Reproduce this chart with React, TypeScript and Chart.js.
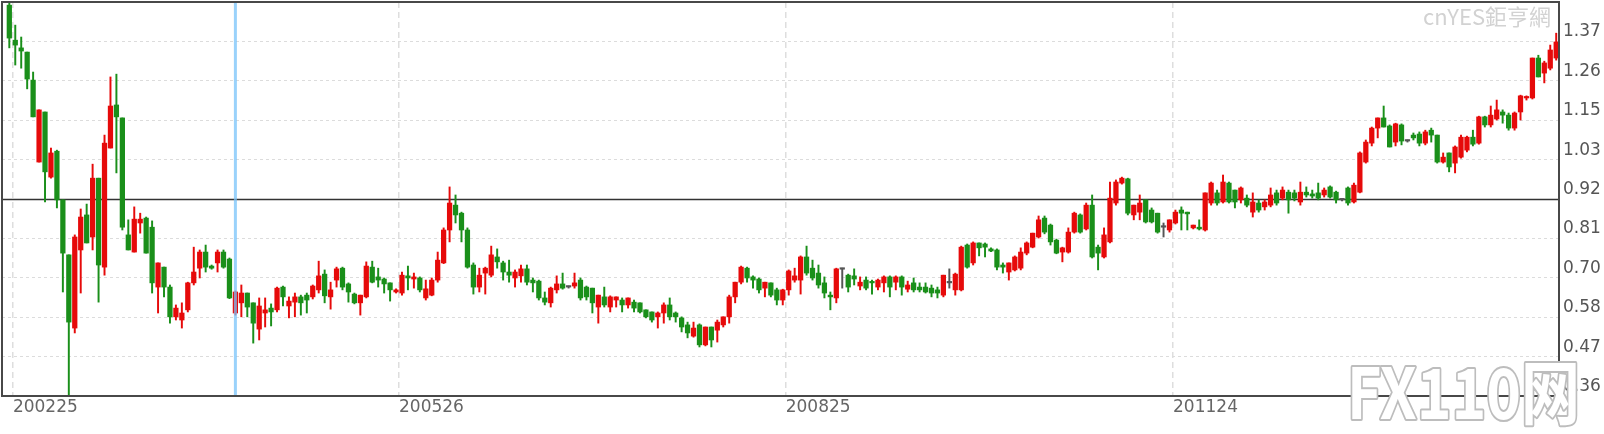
import React, { useEffect, useRef } from 'react';
import { Chart, registerables } from 'chart.js';

Chart.register(...registerables);

// ---- data ----
const OPEN = [
  1.474,1.374,1.352,1.340,1.260,1.026,1.169,0.983,1.057,0.918,
  0.761,0.552,0.775,0.875,0.812,0.980,0.726,1.066,1.189,1.152,
  0.818,0.769,0.852,0.866,0.840,0.669,0.726,0.669,0.584,0.575,
  0.604,0.681,0.723,0.769,0.729,0.738,0.769,0.749,0.595,0.624,
  0.652,0.624,0.549,0.595,0.609,0.604,0.669,0.615,0.626,0.641,
  0.646,0.641,0.661,0.706,0.641,0.689,0.723,0.678,0.649,0.624,
  0.641,0.726,0.698,0.692,0.681,0.655,0.652,0.701,0.692,0.695,
  0.638,0.646,0.689,0.738,0.832,0.903,0.880,0.832,0.732,0.669,
  0.709,0.703,0.755,0.738,0.712,0.695,0.701,0.721,0.689,0.686,
  0.638,0.624,0.661,0.678,0.669,0.672,0.689,0.669,0.666,0.612,
  0.641,0.612,0.632,0.632,0.618,0.626,0.624,0.604,0.598,0.584,
  0.595,0.618,0.595,0.581,0.561,0.529,0.561,0.504,0.555,0.546,
  0.561,0.584,0.641,0.683,0.723,0.698,0.692,0.666,0.681,0.661,
  0.632,0.661,0.689,0.689,0.755,0.723,0.709,0.681,0.646,0.638,
  0.720,0.703,0.701,0.672,0.689,0.683,0.669,0.681,0.698,0.683,
  0.698,0.663,0.681,0.669,0.669,0.666,0.661,0.646,0.681,0.661,
  0.661,0.789,0.738,0.795,0.792,0.778,0.775,0.732,0.712,0.718,
  0.723,0.766,0.783,0.812,0.866,0.846,0.803,0.769,0.769,0.826,
  0.875,0.835,0.903,0.783,0.755,0.798,0.909,0.966,0.978,0.875,
  0.883,0.918,0.889,0.880,0.840,0.832,0.852,0.889,0.883,0.838,
  0.840,0.832,0.909,0.938,0.912,0.966,0.946,0.918,0.923,0.883,
  0.909,0.898,0.903,0.938,0.923,0.940,0.938,0.912,0.940,0.935,
  0.938,0.932,0.955,0.940,0.918,0.952,0.912,0.940,1.026,1.080,
  1.123,1.152,1.129,1.083,1.132,1.086,1.103,1.106,1.080,1.117,
  1.103,1.026,1.052,1.023,1.040,1.060,1.097,1.080,1.155,1.132,
  1.149,1.169,1.160,1.123,1.169,1.209,1.209,1.323,1.280,1.294,
  1.323,
];
const HIGH = [
  1.480,1.417,1.383,1.340,1.283,1.175,1.169,1.066,1.060,0.918,
  0.761,0.818,0.892,0.906,1.020,0.980,1.103,1.269,1.277,1.152,
  0.861,0.898,0.880,0.869,0.858,0.738,0.726,0.675,0.618,0.624,
  0.683,0.783,0.775,0.789,0.732,0.775,0.775,0.752,0.658,0.675,
  0.652,0.624,0.638,0.638,0.621,0.669,0.672,0.641,0.652,0.646,
  0.652,0.675,0.743,0.718,0.683,0.726,0.726,0.681,0.652,0.646,
  0.741,0.743,0.723,0.695,0.681,0.664,0.712,0.729,0.709,0.698,
  0.689,0.695,0.769,0.838,0.955,0.932,0.883,0.838,0.738,0.723,
  0.726,0.786,0.778,0.743,0.746,0.718,0.732,0.732,0.695,0.689,
  0.655,0.669,0.701,0.709,0.672,0.709,0.695,0.672,0.666,0.646,
  0.669,0.644,0.641,0.638,0.638,0.632,0.624,0.604,0.598,0.598,
  0.624,0.638,0.598,0.584,0.569,0.569,0.564,0.555,0.555,0.575,
  0.584,0.646,0.683,0.729,0.726,0.701,0.695,0.683,0.681,0.666,
  0.663,0.718,0.723,0.758,0.786,0.746,0.732,0.698,0.655,0.723,
  0.723,0.706,0.721,0.698,0.698,0.689,0.692,0.701,0.701,0.701,
  0.701,0.686,0.695,0.681,0.681,0.675,0.669,0.703,0.721,0.709,
  0.786,0.792,0.798,0.795,0.795,0.781,0.778,0.738,0.738,0.758,
  0.781,0.798,0.823,0.872,0.872,0.849,0.806,0.783,0.838,0.883,
  0.878,0.909,0.932,0.789,0.838,0.969,0.975,0.983,0.980,0.903,
  0.932,0.918,0.895,0.880,0.852,0.861,0.889,0.898,0.883,0.846,
  0.861,0.938,0.969,0.946,0.989,0.969,0.946,0.955,0.932,0.938,
  0.918,0.918,0.952,0.946,0.955,0.946,0.946,0.969,0.955,0.946,
  0.966,0.952,0.958,0.943,0.920,0.955,0.966,1.055,1.089,1.126,
  1.152,1.186,1.132,1.137,1.135,1.089,1.109,1.112,1.117,1.123,
  1.103,1.052,1.052,1.072,1.103,1.100,1.117,1.157,1.157,1.186,
  1.203,1.175,1.166,1.169,1.217,1.215,1.323,1.331,1.314,1.360,
  1.394,
];
const LOW = [
  1.352,1.303,1.294,1.235,1.155,1.026,0.912,0.980,0.895,0.655,
  0.340,0.538,0.652,0.795,0.775,0.626,0.703,1.066,0.995,0.832,
  0.775,0.769,0.823,0.766,0.652,0.595,0.641,0.566,0.575,0.552,
  0.598,0.675,0.695,0.712,0.720,0.712,0.723,0.636,0.589,0.584,
  0.584,0.509,0.518,0.555,0.558,0.598,0.615,0.581,0.584,0.589,
  0.595,0.635,0.652,0.624,0.606,0.669,0.661,0.626,0.621,0.589,
  0.638,0.681,0.669,0.652,0.629,0.652,0.646,0.661,0.666,0.655,
  0.632,0.644,0.683,0.736,0.798,0.852,0.798,0.723,0.649,0.655,
  0.649,0.698,0.723,0.689,0.683,0.669,0.683,0.675,0.655,0.632,
  0.618,0.612,0.652,0.663,0.666,0.666,0.632,0.632,0.595,0.566,
  0.612,0.598,0.612,0.598,0.609,0.598,0.595,0.581,0.569,0.552,
  0.566,0.575,0.569,0.541,0.524,0.526,0.498,0.501,0.498,0.512,
  0.555,0.566,0.624,0.678,0.683,0.666,0.652,0.641,0.641,0.618,
  0.618,0.646,0.683,0.649,0.703,0.689,0.666,0.638,0.604,0.624,
  0.666,0.655,0.675,0.661,0.661,0.649,0.661,0.655,0.641,0.661,
  0.646,0.655,0.655,0.655,0.652,0.641,0.638,0.641,0.666,0.646,
  0.658,0.723,0.732,0.758,0.755,0.770,0.718,0.709,0.689,0.715,
  0.718,0.761,0.781,0.809,0.821,0.789,0.764,0.741,0.766,0.823,
  0.823,0.832,0.752,0.718,0.752,0.795,0.903,0.963,0.875,0.861,
  0.861,0.852,0.852,0.823,0.812,0.826,0.849,0.832,0.832,0.835,
  0.832,0.829,0.903,0.903,0.909,0.909,0.895,0.909,0.898,0.869,
  0.883,0.889,0.898,0.903,0.918,0.880,0.915,0.903,0.926,0.923,
  0.918,0.926,0.923,0.909,0.915,0.903,0.909,0.938,1.023,1.072,
  1.095,1.126,1.069,1.072,1.075,1.083,1.089,1.072,1.075,1.083,
  1.023,1.023,0.998,0.995,1.037,1.055,1.072,1.077,1.126,1.126,
  1.146,1.137,1.117,1.117,1.146,1.203,1.206,1.269,1.252,1.289,
  1.317,
];
const CLOSE = [
  1.380,1.360,1.343,1.263,1.155,1.175,0.998,1.052,0.918,0.766,
  0.569,0.812,0.869,0.795,0.980,0.732,1.080,1.186,1.155,0.840,
  0.775,0.863,0.863,0.766,0.681,0.738,0.669,0.584,0.609,0.595,
  0.681,0.712,0.769,0.726,0.723,0.769,0.726,0.638,0.655,0.652,
  0.612,0.566,0.615,0.604,0.598,0.666,0.641,0.629,0.641,0.624,
  0.632,0.672,0.701,0.644,0.661,0.721,0.669,0.655,0.624,0.646,
  0.729,0.683,0.689,0.678,0.661,0.661,0.703,0.695,0.698,0.661,
  0.664,0.689,0.746,0.832,0.909,0.875,0.832,0.726,0.669,0.703,
  0.723,0.761,0.741,0.712,0.703,0.712,0.721,0.683,0.681,0.638,
  0.626,0.666,0.678,0.666,0.669,0.681,0.638,0.641,0.624,0.646,
  0.618,0.641,0.641,0.618,0.638,0.609,0.598,0.584,0.575,0.595,
  0.618,0.584,0.584,0.555,0.538,0.552,0.504,0.555,0.518,0.569,
  0.584,0.641,0.683,0.726,0.695,0.689,0.661,0.683,0.646,0.632,
  0.661,0.715,0.701,0.755,0.709,0.695,0.675,0.652,0.641,0.721,
  0.720,0.669,0.692,0.683,0.666,0.681,0.689,0.698,0.669,0.698,
  0.669,0.675,0.661,0.661,0.655,0.652,0.652,0.703,0.681,0.706,
  0.783,0.726,0.795,0.781,0.783,0.772,0.726,0.726,0.738,0.755,
  0.769,0.795,0.823,0.861,0.826,0.798,0.766,0.781,0.826,0.880,
  0.826,0.903,0.755,0.766,0.818,0.923,0.969,0.980,0.880,0.903,
  0.909,0.855,0.855,0.826,0.840,0.861,0.883,0.880,0.878,0.846,
  0.835,0.938,0.966,0.909,0.969,0.912,0.912,0.952,0.903,0.912,
  0.889,0.912,0.932,0.909,0.946,0.918,0.923,0.940,0.932,0.929,
  0.923,0.946,0.926,0.918,0.918,0.909,0.960,1.052,1.083,1.123,
  1.152,1.126,1.069,1.135,1.086,1.086,1.095,1.080,1.112,1.103,
  1.026,1.040,1.012,1.069,1.097,1.097,1.077,1.155,1.132,1.160,
  1.175,1.160,1.123,1.166,1.215,1.212,1.323,1.269,1.309,1.346,
  1.369,
];

const X_TICK_POS = [0.6, 65.5, 130.5, 195.6];
const X_TICK_LABELS = ['200225', '200526', '200825', '201124'];
const Y_MIN = 0.358;
const Y_STEP = 0.1125;
const Y_TICK_COUNT = 11;
const CROSS_PRICE = 0.9205;
const CROSS_INDEX = 38;

const UP = '#e60a0a';
const DOWN = '#1a8f1a';
const FLAT = '#555555';

export default function App() {
  const ref = useRef<HTMLCanvasElement | null>(null);

  useEffect(() => {
    if (!ref.current) return;
    const n = OPEN.length;
    const idx = Array.from({ length: n }, (_, i) => i);
    const colors = idx.map((i) =>
      CLOSE[i] > OPEN[i] ? UP : CLOSE[i] < OPEN[i] ? DOWN : FLAT
    );
    const yMax = Y_MIN + (Y_TICK_COUNT - 1) * Y_STEP;

    const overlay = {
      id: 'overlay',
      beforeDatasetsDraw(chart: any) {
        const { ctx, chartArea, scales } = chart;
        ctx.save();
        ctx.font = "22px 'Noto Sans CJK TC'";
        ctx.fillStyle = '#d2d2d2';
        ctx.textAlign = 'right';
        ctx.textBaseline = 'alphabetic';
        ctx.fillText('cnYES鉅亨網', 1551, 25);
        const y = Math.round(scales.y.getPixelForValue(CROSS_PRICE)) + 0.5;
        ctx.strokeStyle = '#333333';
        ctx.lineWidth = 1.3;
        ctx.beginPath();
        ctx.moveTo(chartArea.left, y);
        ctx.lineTo(chartArea.right, y);
        ctx.stroke();
        ctx.restore();
      },
      afterDatasetsDraw(chart: any) {
        const { ctx, chartArea, scales } = chart;
        ctx.save();
        const x = scales.x.getPixelForValue(CROSS_INDEX);
        ctx.strokeStyle = 'rgba(120,195,250,0.75)';
        ctx.lineWidth = 3;
        ctx.beginPath();
        ctx.moveTo(x, chartArea.top);
        ctx.lineTo(x, chartArea.bottom);
        ctx.stroke();
        ctx.strokeStyle = '#484848';
        ctx.lineWidth = 2;
        ctx.strokeRect(chartArea.left, chartArea.top, chartArea.right - chartArea.left, chartArea.bottom - chartArea.top);
        ctx.restore();
      },
      afterDraw(chart: any) {
        const { ctx } = chart;
        ctx.save();
        const txt = 'FX110网';
        ctx.font = "bold 70px 'Noto Sans CJK SC'";
        const w = ctx.measureText(txt).width;
        const sx = 233 / w;
        ctx.translate(1347, 419);
        ctx.scale(sx, 1);
        ctx.textAlign = 'left';
        ctx.textBaseline = 'alphabetic';
        ctx.lineJoin = 'round';
        ctx.strokeStyle = '#bdbdbd';
        ctx.lineWidth = 4;
        ctx.strokeText(txt, 0, 0);
        ctx.fillStyle = '#ffffff';
        ctx.fillText(txt, 0, 0);
        ctx.restore();
      },
    };

    const chart = new Chart(ref.current, {
      type: 'bar',
      data: {
        datasets: [
          {
            label: 'wick',
            data: idx.map((i) => ({ x: i, y: [LOW[i], HIGH[i]] })) as any,
            backgroundColor: colors,
            barThickness: 1.3,
            grouped: false,
            order: 2,
          },
          {
            label: 'body',
            data: idx.map((i) => ({ x: i, y: [Math.min(OPEN[i], CLOSE[i]), Math.max(OPEN[i], CLOSE[i])] })) as any,
            backgroundColor: colors,
            barThickness: 4.6,
            minBarLength: 1.5,
            grouped: false,
            order: 1,
          },
        ],
      },
      options: {
        animation: false,
        responsive: false,
        maintainAspectRatio: false,
        layout: { padding: { top: 2, left: 2, right: 0, bottom: 0 } },
        plugins: { legend: { display: false }, tooltip: { enabled: false } },
        scales: {
          x: {
            type: 'linear',
            offset: false,
            min: -1.23,
            max: 260.47,
            afterBuildTicks: (s: any) => {
              s.ticks = X_TICK_POS.map((v) => ({ value: v }));
            },
            afterFit: (s: any) => {
              s.height = 38;
              s.paddingLeft = 0;
              s.paddingRight = 0;
            },
            ticks: {
              autoSkip: false,
              maxRotation: 0,
              align: 'start',
              padding: 1,
              color: '#666666',
              font: { family: "'DejaVu Sans'", size: 17 },
              callback: (_v: any, i: number) => X_TICK_LABELS[i],
            },
            grid: { offset: false, color: '#dedede', lineWidth: 1.5, drawTicks: false },
            border: { display: false, dash: [6, 4] },
          },
          y: {
            type: 'linear',
            position: 'right',
            min: Y_MIN,
            max: yMax,
            afterBuildTicks: (s: any) => {
              s.ticks = Array.from({ length: Y_TICK_COUNT }, (_, k) => ({ value: Y_MIN + k * Y_STEP }));
            },
            afterFit: (s: any) => {
              s.width = 45;
              s.paddingTop = 0;
              s.paddingBottom = 0;
            },
            ticks: {
              autoSkip: false,
              padding: 4,
              labelOffset: -9.5,
              color: '#555555',
              font: { family: "'DejaVu Sans'", size: 17 },
              callback: (v: any) => Number(v).toFixed(2),
            },
            grid: { color: '#dcdcdc', lineWidth: 1, drawTicks: false },
            border: { display: false, dash: [3, 3] },
          },
        },
      },
      plugins: [overlay],
    });
    return () => chart.destroy();
  }, []);

  return (
    <div style={{ position: 'fixed', left: 0, top: 0, width: 1604, height: 434, background: '#ffffff' }}>
      <canvas ref={ref} width={1604} height={434} style={{ display: 'block' }} />
    </div>
  );
}
